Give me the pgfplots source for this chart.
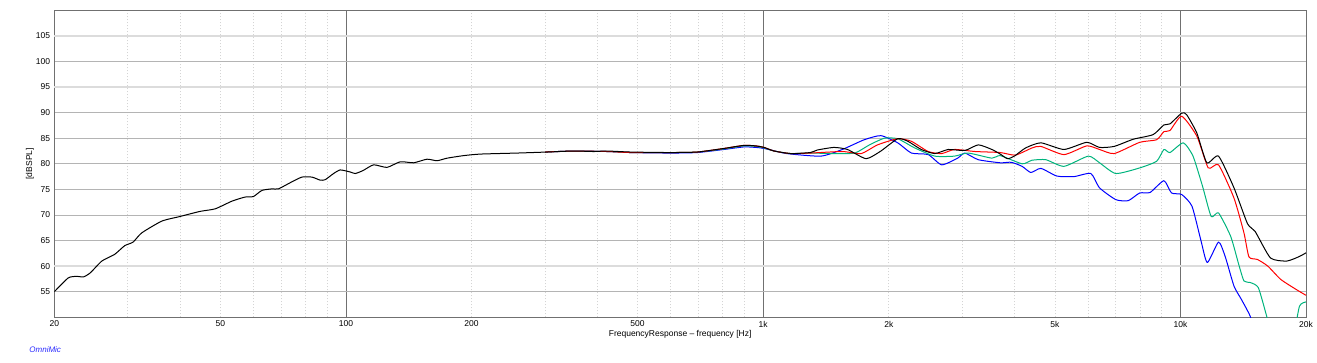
\documentclass[border=0pt]{standalone}
\usepackage{pgfplots}
\pgfplotsset{compat=1.18}
\usepackage{fontspec}
\setmainfont{Liberation Sans}
\definecolor{majg}{HTML}{707070}
\definecolor{hg}{HTML}{B4B4B4}
\definecolor{hlg}{HTML}{DCDCDC}
\definecolor{ming}{HTML}{D4D4D4}
\definecolor{cgreen}{RGB}{0,180,125}
\definecolor{omni}{RGB}{40,40,255}
\begin{document}
\begin{tikzpicture}
\path[use as bounding box] (0,0) rectangle (1317pt,362pt);
\begin{axis}[
  at={(54.3pt,44.7pt)}, anchor=south west,
  width=1251.7pt, height=307pt, scale only axis,
  xmode=log, xmin=20, xmax=20000, ymin=50, ymax=110,
  /pgf/number format/assume math mode=true,
  tick label style={font=\fontsize{8.5}{10}\selectfont},
  xtick={100,1000,10000}, xticklabels={100,1k,10k},
  extra x ticks={20,50,200,500,2000,5000,20000},
  extra x tick labels={20,50,200,500,2k,5k,20k},
  extra x tick style={grid=none},
  minor xtick={30,40,50,60,70,80,90,200,300,400,500,600,700,800,900,2000,3000,4000,5000,6000,7000,8000,9000},
  xmajorgrids, xminorgrids,
  major x grid style={majg, line width=0.8pt},
  minor x grid style={ming, line width=0.6pt, dash pattern=on 1.5pt off 1.5pt},
  ytick={55,65,70,75,80,85,90,100},
  extra y ticks={60,95,105},
  extra y tick style={major y grid style={hlg, line width=1.4pt}},
  ymajorgrids,
  major y grid style={hg, line width=0.8pt},
  major tick length=0pt, minor tick length=0pt,
  xticklabel style={anchor=center, inner sep=0pt, yshift=-6.7pt},
  yticklabel style={anchor=east, inner sep=0pt, xshift=-4pt},
  axis line style={majg, line width=0.8pt},
  xlabel={FrequencyResponse – frequency [Hz]},
  ylabel={[dBSPL]},
  label style={font=\fontsize{8.5}{10}\selectfont},
  xlabel style={at={(axis description cs:0.5,-0.0554)}, anchor=center, inner sep=0pt},
  ylabel style={at={(axis description cs:-0.0194,0.5)}, anchor=center, inner sep=0pt},
  every axis plot/.append style={line width=1pt, line join=round, smooth, tension=0.35},
]
% blue
\addplot[blue] coordinates {
(300,82.3)(351.6,82.5)(423,82.4)(481,82.2)(599,82.1)(695,82.2)(805,82.8)(899,83.3)(960,83.2)(1005,83.0)
(1140,82.0)(1375,81.5)(1548,82.8)(1746,84.7)(1915,85.5)(2101,84.1)(2266,82.1)(2486,81.8)(2678,79.8)
(2924,81.1)(3043,82.1)(3278,80.8)(3700,80.2)(3930,80.3)(4175,79.5)(4380,78.3)(4630,79.1)(5060,77.6)
(5560,77.5)(6100,78.1)(6400,75.3)(7000,73.0)(7500,72.8)(7990,74.3)(8460,74.4)(9130,76.7)(9520,74.3)
(10070,74.0)(10660,71.7)(11200,65.0)(11600,60.7)(12340,64.7)(12800,61.9)(13440,56.1)(14000,53.5)
(14700,50.2)(15000,47)};
% green
\addplot[cgreen] coordinates {
(300,82.3)(351.6,82.5)(423,82.4)(481,82.2)(599,82.2)(695,82.3)(805,82.9)(899,83.5)(960,83.4)(1005,83.1)
(1062,82.5)(1164,82.0)(1297,82.1)(1478,82.0)(1657,82.1)(1798,83.7)(1952,85.0)(2101,84.9)(2308,83.1)
(2578,81.5)(2875,81.5)(3100,82.1)(3533,81.1)(3700,81.6)(4175,80.0)(4410,80.7)(4760,80.8)(5260,79.5)
(6015,81.5)(6400,80.2)(7000,78.1)(7990,79.2)(8770,80.5)(9130,82.8)(9440,82.2)(10160,84.1)(10720,81.5)
(11300,75.6)(11850,69.7)(12340,70.4)(13200,65.8)(13800,60.3)(14200,57.1)(14700,56.8)(15370,55.8)
(16100,50.2)(16500,47)(18500,46)(19300,52.2)(20000,53.0)};
% red
\addplot[red] coordinates {
(300,82.3)(351.6,82.5)(423,82.4)(481,82.2)(599,82.2)(695,82.3)(805,83.0)(899,83.6)(960,83.5)(1005,83.2)
(1062,82.5)(1164,82.0)(1297,82.1)(1548,82.4)(1717,82.0)(1880,83.7)(2101,84.9)(2266,84.4)(2486,82.4)
(2678,82.0)(2875,82.8)(3223,82.4)(3700,82.2)(4022,81.7)(4410,83.1)(4630,83.4)(5260,81.8)(5962,83.5)
(6400,82.8)(6940,82.0)(7990,84.2)(8770,84.7)(9130,86.3)(9440,86.5)(10070,89.3)(10950,85.4)(11660,79.2)
(12340,79.8)(13440,73.3)(14200,66.5)(14600,61.8)(15300,61.3)(16200,60.0)(17400,57.4)(18980,55.4)(20000,54.3)};
% black
\addplot[black] coordinates {
(20,55.0)(21.6,57.7)(22.6,58.0)(23.5,57.9)(24.4,58.7)(26.0,61.0)(27.9,62.3)(29.5,64.0)(30.9,64.7)
(32.4,66.5)(36.2,68.8)(40,69.7)(44.7,70.7)(48.6,71.2)(53.3,72.7)(57.3,73.5)(60.0,73.6)(62.9,74.8)
(66.5,75.1)(68.9,75.1)(73.5,76.3)(78.4,77.4)(82.9,77.4)(86.8,76.8)(89.2,76.9)(93.4,78.1)(96.9,78.8)
(102.4,78.4)(105.3,78.1)(110,78.7)(116.5,79.8)(125.4,79.3)(135,80.4)(145.3,80.2)(156.4,80.9)
(165.4,80.6)(174.7,81.1)(191.5,81.6)(210,81.9)(257,82.1)(303.5,82.3)(351.6,82.5)(392.6,82.4)
(423,82.5)(481,82.3)(599,82.2)(695,82.3)(805,83.0)(899,83.6)(960,83.5)(1005,83.2)(1062,82.5)
(1164,82.0)(1297,82.2)(1349,82.7)(1478,83.2)(1592,82.8)(1765,81.0)(1915,82.5)(2101,84.9)(2222,84.4)
(2392,82.8)(2578,82.0)(2778,82.8)(3043,82.6)(3278,83.7)(3533,82.8)(3700,81.9)(3850,81.0)(4000,81.5)
(4255,83.1)(4630,84.1)(5260,82.8)(5962,84.2)(6400,83.2)(6940,83.4)(7710,84.8)(8600,85.7)(9130,87.6)
(9440,87.8)(10070,89.9)(10350,89.6)(10950,86.0)(11570,80.2)(12340,81.5)(13440,75.3)(14480,68.3)
(15100,66.8)(16440,61.6)(18000,61.0)(19300,61.9)(20000,62.6)};
\end{axis}
\node[font=\fontsize{8}{10}\selectfont\itshape, text=omni, inner sep=0pt] at (45.2pt,12.7pt) {OmniMic};
\end{tikzpicture}
\end{document}
